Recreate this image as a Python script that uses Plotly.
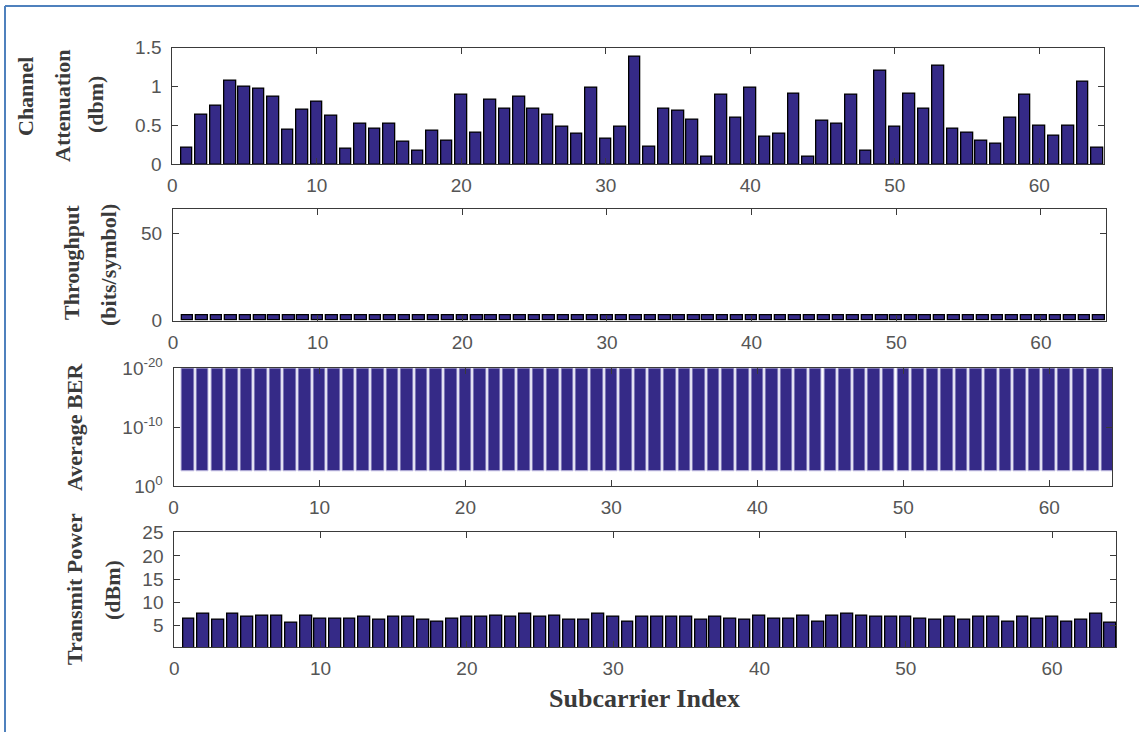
import plotly.graph_objects as go

# ---------------- data ----------------
subcarriers = list(range(1, 65))

attenuation = [0.21, 0.64, 0.75, 1.08, 1.00, 0.97, 0.87, 0.45, 0.70, 0.81,
               0.62, 0.20, 0.52, 0.46, 0.52, 0.29, 0.17, 0.43, 0.31, 0.89,
               0.41, 0.83, 0.71, 0.87, 0.71, 0.64, 0.49, 0.39, 0.98, 0.33,
               0.49, 1.39, 0.23, 0.71, 0.69, 0.58, 0.10, 0.89, 0.60, 0.98,
               0.35, 0.39, 0.91, 0.10, 0.56, 0.52, 0.89, 0.17, 1.21, 0.49,
               0.91, 0.71, 1.27, 0.46, 0.41, 0.31, 0.27, 0.60, 0.89, 0.50,
               0.37, 0.50, 1.06, 0.21]

throughput = [3] * 64

avg_ber = [3.7e-3] * 64

transmit_power = [6.58, 7.59, 6.29, 7.59, 6.94, 7.23, 7.23, 5.65, 7.23, 6.58,
                  6.58, 6.58, 6.94, 6.29, 6.94, 6.94, 6.29, 5.94, 6.58, 6.87,
                  6.87, 7.23, 6.94, 7.59, 6.94, 7.23, 6.29, 6.29, 7.59, 6.94,
                  5.94, 6.90, 6.87, 6.87, 6.87, 6.29, 6.94, 6.58, 6.29, 7.23,
                  6.58, 6.58, 7.23, 5.94, 7.23, 7.52, 7.23, 6.87, 6.87, 6.87,
                  6.58, 6.29, 6.87, 6.29, 6.87, 6.87, 5.94, 6.87, 6.58, 6.87,
                  5.94, 6.29, 7.52, 5.58]

x_ticks = [0, 10, 20, 30, 40, 50, 60]
ber_tickvals = [1e-20, 1e-10, 1]
ber_ticktext = ["10<sup>-20</sup>", "10<sup>-10</sup>", "10<sup>0</sup>"]

# ---------------- layout helpers ----------------
W, H = 1139, 732
L, R, T, B = 172, 23, 47, 85
PW, PH = W - L - R, H - T - B


def px(x):
    return (x - L) / PW


def py(y):
    return (H - B - y) / PH


BAR = "rgb(53,42,135)"
AXC = "#3a3a3a"
TICKFONT = dict(family="Liberation Sans, Arial, sans-serif", size=19, color="#555555")
TITLEFONT = dict(family="Liberation Serif, Times New Roman, serif", size=22, color="#3a3a3a")

fig = go.Figure()

# panel 1
fig.add_trace(go.Bar(x=subcarriers, y=attenuation, width=0.8,
                     marker=dict(color=BAR, line=dict(color="black", width=1.3)),
                     xaxis="x", yaxis="y", showlegend=False))
# panel 2
fig.add_trace(go.Bar(x=subcarriers, y=throughput, width=0.8,
                     marker=dict(color=BAR, line=dict(color="black", width=1.3)),
                     xaxis="x2", yaxis="y2", showlegend=False))
# panel 3
fig.add_trace(go.Bar(x=subcarriers, y=avg_ber, base=[1e-20] * len(avg_ber), width=0.86,
                     marker=dict(color=BAR, line=dict(color="rgb(200,196,230)", width=1)),
                     xaxis="x3", yaxis="y3", showlegend=False))
# panel 4
fig.add_trace(go.Bar(x=subcarriers, y=transmit_power, width=0.8,
                     marker=dict(color=BAR, line=dict(color="black", width=1.3)),
                     xaxis="x4", yaxis="y4", showlegend=False))

common_axis = dict(showline=True, linecolor=AXC, linewidth=1, mirror="ticks",
                   ticks="inside", ticklen=6, tickcolor=AXC, showgrid=False,
                   zeroline=False, tickfont=TICKFONT)

panels = [
    # (xdomain px, ydomain px, xmax)
    ((172.3, 1104.3), (164.3, 47.7), 64.5),
    ((173.0, 1106.0), (320.7, 209.3), 64.5),
    ((173.5, 1112.0), (486.0, 368.3), 64.3),
    ((174.3, 1116.0), (647.0, 531.7), 64.37),
]

layout = dict(width=W, height=H, margin=dict(l=L, r=R, t=T, b=B),
              paper_bgcolor="white", plot_bgcolor="white", bargap=0)

for i, ((x0, x1), (y0, y1), xmax) in enumerate(panels):
    sfx = "" if i == 0 else str(i + 1)
    layout["xaxis" + sfx] = dict(common_axis, domain=[px(x0), px(x1)], range=[0, xmax],
                                 tickvals=x_ticks, anchor="y" + sfx, ticklabelstandoff=4)
    layout["yaxis" + sfx] = dict(common_axis, domain=[py(y0), py(y1)], anchor="x" + sfx,
                                 ticklabelstandoff=6)

layout["yaxis"].update(range=[0, 1.5], tickvals=[0, 0.5, 1, 1.5], ticktext=["0", "0.5", "1", "1.5"])
layout["yaxis2"].update(range=[0, 64], tickvals=[0, 50])
layout["yaxis3"].update(type="log", range=[0, -20], tickvals=ber_tickvals, ticktext=ber_ticktext)
layout["yaxis4"].update(range=[0.4, 25.2], tickvals=[5, 10, 15, 20, 25])

fig.update_layout(**layout)

# y-axis titles
titles = [
    ("Channel", 25, 97),
    ("Attenuation", 62, 106),
    ("(dbm)", 95, 105),
    ("Throughput", 71, 263),
    ("(bits/symbol)", 108, 265),
    ("Average BER", 74, 427),
    ("Transmit Power", 74, 589),
    ("(dBm)", 112, 590),
]
for text, xp, yp in titles:
    fig.add_annotation(text="<b>" + text + "</b>", xref="paper", yref="paper",
                       x=px(xp), y=py(yp), xanchor="center", yanchor="middle",
                       textangle=-90, showarrow=False, font=TITLEFONT)

fig.add_annotation(text="<b>Subcarrier Index</b>", xref="paper", yref="paper",
                   x=px(644), y=py(698), xanchor="center", yanchor="middle",
                   showarrow=False,
                   font=dict(family="Liberation Serif, Times New Roman, serif", size=26, color="#3a3a3a"))

# document frame (blue lines on left and top)
FRAME = "#4f81bd"
fig.add_shape(type="line", xref="paper", yref="paper", x0=px(5), x1=px(5),
              y0=py(6), y1=py(732), line=dict(color=FRAME, width=2))
fig.add_shape(type="line", xref="paper", yref="paper", x0=px(5), x1=px(1139),
              y0=py(6), y1=py(6), line=dict(color=FRAME, width=2))

fig.write_html("out.html")
